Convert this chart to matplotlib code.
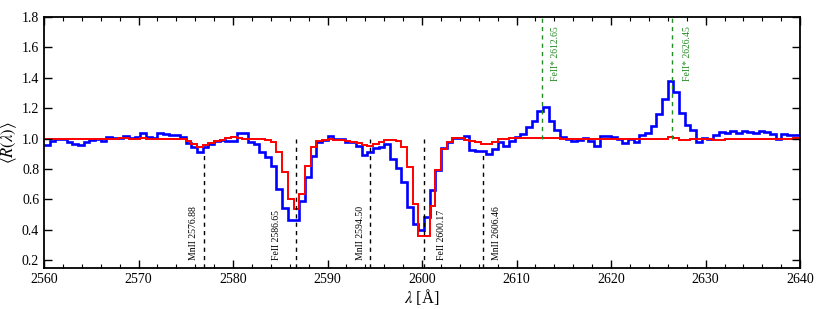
#!/usr/bin/env python3

import numpy as np
import matplotlib
matplotlib.use("Agg")
import matplotlib.pyplot as plt
from matplotlib.ticker import MultipleLocator

# binned spectra, 0.6 A bins starting at 2560 A
bin_start = 2560.0
bin_width = 0.6

blue_flux = [
    0.955, 0.985, 1.0, 1.0, 0.98, 0.965, 0.955, 0.975, 0.99, 0.995,
    0.985, 1.01, 1.005, 1.005, 1.02, 1.005, 1.01, 1.035, 1.01, 1.005,
    1.04, 1.03, 1.024, 1.024, 1.013, 0.97, 0.943, 0.91, 0.948, 0.965,
    0.983, 0.99, 0.987, 0.983, 1.037, 1.037, 0.976, 0.965, 0.91, 0.88,
    0.82, 0.67, 0.545, 0.467, 0.467, 0.59, 0.746, 0.889, 0.976, 0.99,
    1.02, 1.0, 0.995, 0.976, 0.975, 0.952, 0.89, 0.91, 0.94, 0.945,
    0.962, 0.866, 0.805, 0.716, 0.55, 0.44, 0.40, 0.485, 0.664, 0.794,
    0.94, 0.975, 1.006, 1.004, 1.015, 0.928, 0.921, 0.921, 0.90, 0.932,
    0.976, 0.954, 0.987, 1.009, 1.03, 1.074, 1.118, 1.184, 1.205, 1.113,
    1.06, 1.009, 0.998, 0.983, 0.993, 1.004, 0.987, 0.954, 1.02, 1.02,
    1.013, 0.998, 0.969, 0.998, 0.976, 1.026, 1.035, 1.085, 1.16, 1.26,
    1.376, 1.31, 1.17, 1.092, 1.058, 0.976, 1.005, 0.998, 1.024, 1.046,
    1.037, 1.052, 1.037, 1.052, 1.046, 1.037, 1.052, 1.046, 1.03, 0.998,
    1.03, 1.026, 1.026, 1.026,
]

red_flux = [
    1.0, 0.998, 1.0, 1.0, 0.997, 0.995, 0.995, 0.997, 0.998, 1.0,
    0.998, 0.995, 1.0, 1.002, 1.002, 1.0, 1.0, 1.002, 1.0, 1.0,
    0.998, 1.0, 1.0, 0.998, 0.995, 0.987, 0.965, 0.943, 0.955, 0.97,
    0.983, 0.99, 1.004, 1.008, 1.004, 1.0, 0.998, 0.998, 0.998, 0.99,
    0.98, 0.91, 0.78, 0.605, 0.54, 0.637, 0.823, 0.943, 0.987, 0.99,
    0.996, 0.99, 0.99, 0.985, 0.978, 0.97, 0.958, 0.95, 0.965, 0.978,
    0.99, 0.99, 0.985, 0.943, 0.812, 0.567, 0.357, 0.357, 0.555, 0.794,
    0.935, 0.98, 1.005, 1.005, 0.99, 0.987, 0.976, 0.965, 0.965, 0.98,
    1.0, 1.0, 1.002, 1.003, 1.003, 1.005, 1.005, 1.005, 1.003, 1.003,
    1.002, 1.0, 0.998, 0.995, 1.0, 1.0, 0.998, 0.995, 1.0, 1.0,
    0.998, 1.0, 0.995, 0.995, 0.998, 0.998, 1.0, 1.0, 0.998, 1.0,
    1.008, 1.005, 0.993, 0.993, 0.995, 1.0, 1.0, 0.998, 0.993, 0.993,
    0.995, 0.998, 1.0, 1.0, 0.998, 0.998, 1.0, 0.998, 0.995, 0.995,
    0.995, 1.0, 1.005, 1.0,
]

# absorption lines (black) and fine-structure emission lines (green)
abs_names = ["MnII 2576.88", "FeII 2586.65", "MnII 2594.50", "FeII 2600.17", "MnII 2606.46"]
abs_waves = [2576.88, 2586.65, 2594.50, 2600.17, 2606.46]
abs_tops = [0.89, 1.0, 1.0, 1.0, 0.9]
abs_label_x = [2575.8, 2584.6, 2593.45, 2602.05, 2607.9]

em_names = ["FeII* 2612.65", "FeII* 2626.45"]
em_waves = [2612.65, 2626.45]
em_label_x = [2614.1, 2628.1]

plt.rcParams["font.family"] = ["Liberation Serif", "DejaVu Serif"]
plt.rcParams["mathtext.fontset"] = "stix"

fig = plt.figure(figsize=(8.3, 3.09), dpi=100)
ax = fig.add_axes([0.053, 0.133, 0.911, 0.812])

edges = bin_start + bin_width * np.arange(len(blue_flux) + 1)
ax.stairs(blue_flux, edges, color="#0000ff", lw=1.9, baseline=None)
ax.stairs(red_flux, edges, color="#ff0000", lw=1.4, baseline=None)

ymin, ymax = 0.15, 1.8
for name, w, top, lx in zip(abs_names, abs_waves, abs_tops, abs_label_x):
    ax.plot([w, w], [ymin, top], color="black", ls="--", lw=1.0, dashes=(3, 3))
    ax.text(lx, 0.2, name, rotation=90, ha="center", va="bottom", fontsize=7)

green = "#228B22"
for name, w, lx in zip(em_names, em_waves, em_label_x):
    ax.plot([w, w], [1.0, ymax], color=green, ls="--", lw=1.0, dashes=(3, 3))
    ax.text(lx, 1.74, name, rotation=90, ha="center", va="top", fontsize=7, color=green)

ax.set_xlim(2560, 2640)
ax.set_ylim(ymin, ymax)
ax.xaxis.set_major_locator(MultipleLocator(10))
ax.xaxis.set_minor_locator(MultipleLocator(2))
ax.yaxis.set_major_locator(MultipleLocator(0.2))
ax.tick_params(which="both", direction="in", top=True, right=True, labelsize=10)
ax.tick_params(which="major", length=6, width=1.0)
ax.tick_params(which="minor", length=3, width=0.8)
ax.set_yticks([0.2, 0.4, 0.6, 0.8, 1.0, 1.2, 1.4, 1.6, 1.8])
ax.set_yticklabels(["0.2", "0.4", "0.6", "0.8", "1.0", "1.2", "1.4", "1.6", "1.8"])
for sp in ax.spines.values():
    sp.set_linewidth(1.3)

ax.set_xlabel(r"$\lambda$ [Å]", fontsize=12, labelpad=1)
ax.set_ylabel(r"$\langle R(\lambda)\rangle$", fontsize=12, labelpad=2)

fig.savefig("out.png", dpi=100)
